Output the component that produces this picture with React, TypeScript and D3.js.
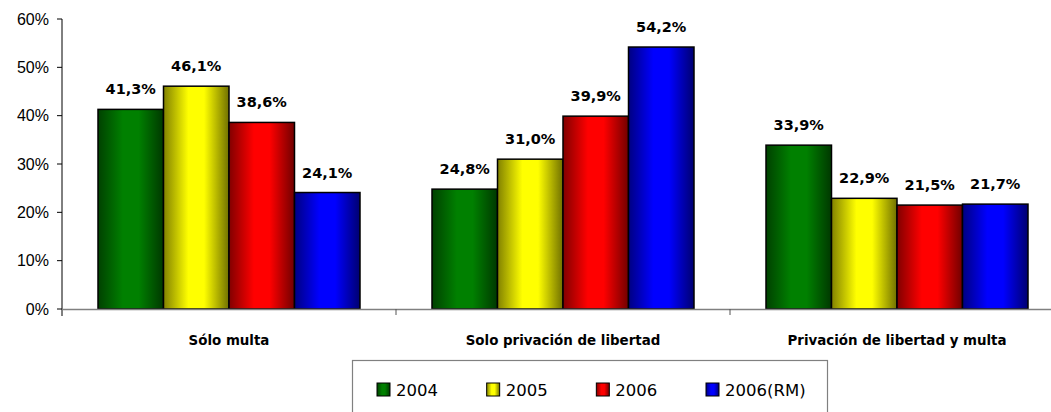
import React from "react";
import * as d3 from "d3";

// data
const categories = ["Sólo multa", "Solo privación de libertad", "Privación de libertad y multa"];
const seriesNames = ["2004", "2005", "2006", "2006(RM)"];
const values2004 = [41.3, 24.8, 33.9];
const values2005 = [46.1, 31.0, 22.9];
const values2006 = [38.6, 39.9, 21.5];
const values2006RM = [24.1, 54.2, 21.7];
const yTicks = [0, 10, 20, 30, 40, 50, 60];
const seriesColors = ["#008000", "#ffff00", "#ff0000", "#0000ff"];

const seriesValues = [values2004, values2005, values2006, values2006RM];

const W = 1051;
const H = 412;
const plot = { left: 62, top: 19, bottom: 309, right: 1064 };

const fmt = (v: number) => v.toFixed(1).replace(".", ",") + "%";

export default function App() {
  const y = d3.scaleLinear().domain([0, 60]).range([plot.bottom, plot.top]);
  const x0 = d3.scaleBand<string>().domain(categories).range([plot.left, plot.right]);
  const x1 = d3
    .scaleBand<string>()
    .domain(seriesNames)
    .range([36, x0.bandwidth() - 36]);

  const legendX = d3.scalePoint<string>().domain(seriesNames).range([377, 706]);

  return (
    <svg
      width={W}
      height={H}
      style={{ position: "absolute", left: 0, top: 0, background: "#fff" }}
    >
      <defs>
        {seriesColors.map((c, i) => {
          const darkL = d3.color(c)!.darker(1.9).formatHex();
          const darkR = d3.color(c)!.darker(2.3).formatHex();
          return (
            <linearGradient key={i} id={`grad${i}`} x1="0" x2="1" y1="0" y2="0">
              <stop offset="0%" stopColor={darkL} />
              <stop offset="38%" stopColor={c} />
              <stop offset="62%" stopColor={c} />
              <stop offset="100%" stopColor={darkR} />
            </linearGradient>
          );
        })}
      </defs>

      {/* y axis */}
      <line x1={plot.left} x2={plot.left} y1={plot.top} y2={plot.bottom + 7} stroke="#000" />
      {yTicks.map((t) => (
        <g key={t}>
          <line x1={plot.left - 5} x2={plot.left} y1={y(t)} y2={y(t)} stroke="#000" />
          <text
            x={49}
            y={y(t) + 5.5}
            textAnchor="end"
            fontFamily="'Liberation Sans', Arial, sans-serif"
            fontSize={16}
            fill="#000"
          >
            {t}%
          </text>
        </g>
      ))}

      {/* bars */}
      {categories.map((cat, ci) => (
        <g key={cat} transform={`translate(${x0(cat)},0)`}>
          {seriesNames.map((s, si) => {
            const v = seriesValues[si][ci];
            const bx = x1(s)!;
            const bw = x1.bandwidth();
            return (
              <g key={s}>
                <rect
                  x={bx}
                  y={y(v)}
                  width={bw}
                  height={y(0) - y(v)}
                  fill={`url(#grad${si})`}
                  stroke="#000"
                  strokeWidth={1.5}
                />
                <text
                  x={bx + bw / 2}
                  y={y(v) - 15}
                  textAnchor="middle"
                  fontFamily="'DejaVu Sans', Verdana, sans-serif"
                  fontWeight="bold"
                  fontSize={14.5}
                  fill="#000"
                >
                  {fmt(v)}
                </text>
              </g>
            );
          })}
        </g>
      ))}

      {/* x axis */}
      <line x1={plot.left} x2={W} y1={plot.bottom + 0.5} y2={plot.bottom + 0.5} stroke="#808080" strokeWidth={1.5} />
      {categories.map((cat, ci) =>
        ci > 0 ? (
          <line
            key={cat}
            x1={x0(cat)}
            x2={x0(cat)}
            y1={plot.bottom}
            y2={plot.bottom + 6}
            stroke="#555"
          />
        ) : null
      )}
      {categories.map((cat) => (
        <text
          key={cat}
          x={x0(cat)! + x0.bandwidth() / 2}
          y={345}
          textAnchor="middle"
          fontFamily="'DejaVu Sans', Verdana, sans-serif"
          fontWeight="bold"
          fontSize={13.4}
          fill="#000"
        >
          {cat}
        </text>
      ))}

      {/* legend */}
      <rect x={352.5} y={360.5} width={475} height={60} fill="#fff" stroke="#808080" strokeWidth={1.2} />
      {seriesNames.map((s, si) => (
        <g key={s} transform={`translate(${legendX(s)},383)`}>
          <rect width={13} height={13} fill={`url(#grad${si})`} stroke="#000" strokeWidth={1} />
          <text
            x={19}
            y={12.5}
            fontFamily="'DejaVu Sans', Verdana, sans-serif"
            fontSize={16.5}
            fill="#000"
          >
            {s}
          </text>
        </g>
      ))}
    </svg>
  );
}
